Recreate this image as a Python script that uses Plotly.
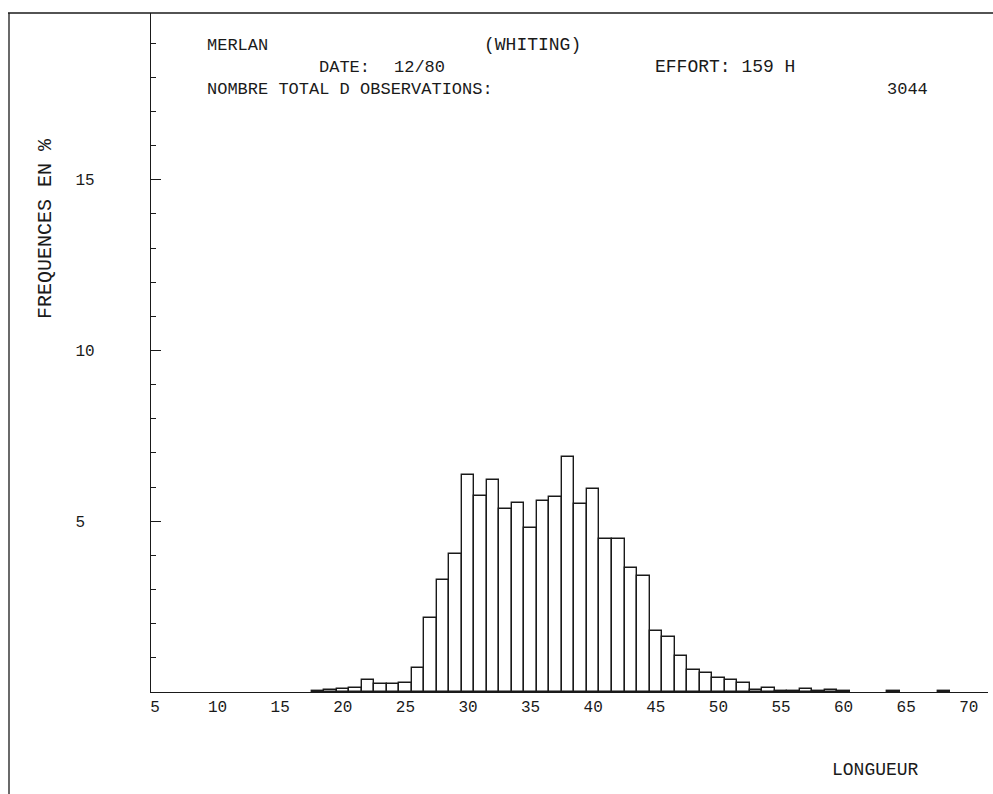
import plotly.graph_objects as go

# Length classes (cm) and relative frequencies (%) of whiting catches
longueur = [18, 19, 20, 21, 22, 23, 24, 25, 26, 27, 28, 29, 30, 31, 32, 33, 34,
            35, 36, 37, 38, 39, 40, 41, 42, 43, 44, 45, 46, 47, 48, 49, 50, 51,
            52, 53, 54, 55, 56, 57, 58, 59, 60, 64, 68]
frequence = [0.02, 0.05, 0.08, 0.12, 0.36, 0.24, 0.22, 0.27, 0.70, 2.17, 3.29,
             4.04, 6.36, 5.73, 6.22, 5.36, 5.53, 4.80, 5.60, 5.71, 6.88, 5.51,
             5.95, 4.49, 4.49, 3.63, 3.39, 1.80, 1.60, 1.04, 0.65, 0.56, 0.41,
             0.36, 0.26, 0.05, 0.12, 0.02, 0.03, 0.09, 0.02, 0.05, 0.02, 0.02,
             0.02]

x_ticks = list(range(5, 71, 5))
y_ticks = [5, 10, 15]
y_ticktext = ["5\u00a0", "10", "15"]

W, H = 993, 794
L, R, T, B = 151, 5, 13, 102
PW, PH = W - L - R, H - T - B
X_PER_CM = 12.52
Y_PER_PCT = 34.15
x0 = 5 - 4 / X_PER_CM
x_range = [x0, x0 + PW / X_PER_CM]
y_range = [0, PH / Y_PER_PCT]

FONT = "Liberation Mono"
INK = "#1a1a1a"


def px(xp):
    return (xp - L) / PW


def py(yp):
    return (H - B - yp) / PH


fig = go.Figure()
fig.add_trace(go.Bar(
    x=longueur, y=frequence, width=1.0,
    marker=dict(color="white", line=dict(color=INK, width=1.4)),
    hoverinfo="x+y", showlegend=False,
))

texts = [
    ("MERLAN", 205, 45, 17),
    ("(WHITING)", 482, 45, 18),
    ("DATE:", 317, 67, 17),
    ("12/80", 392, 67, 17),
    ("EFFORT: 159 H", 653, 67, 18),
    ("NOMBRE TOTAL D OBSERVATIONS:", 205, 89, 17),
    ("3044", 885, 89, 17),
    ("LONGUEUR", 830, 770, 18),
]
annotations = [
    dict(text=t, x=px(xp), y=py(yp), xref="paper", yref="paper",
         xanchor="left", yanchor="middle", showarrow=False,
         font=dict(family=FONT, size=fs, color=INK))
    for t, xp, yp, fs in texts
]
annotations.append(dict(
    text="FREQUENCES EN %", x=px(45), y=py(228), xref="paper", yref="paper",
    xanchor="center", yanchor="middle", showarrow=False, textangle=-90,
    font=dict(family=FONT, size=20, color=INK)))

# outer frame: top rule and left rule
shapes = [
    dict(type="line", xref="paper", yref="paper",
         x0=px(8), y0=py(13), x1=px(993), y1=py(13),
         line=dict(color=INK, width=1.3)),
    dict(type="line", xref="paper", yref="paper",
         x0=px(9), y0=py(13), x1=px(9), y1=py(794),
         line=dict(color=INK, width=1.3)),
]

fig.update_layout(
    width=W, height=H,
    margin=dict(l=L, r=R, t=T, b=B, pad=0),
    paper_bgcolor="white", plot_bgcolor="white",
    bargap=0,
    annotations=annotations,
    shapes=shapes,
    font=dict(family=FONT, color=INK),
)
fig.update_xaxes(
    range=x_range, tickmode="array", tickvals=x_ticks,
    ticktext=[str(v) for v in x_ticks], ticks="",
    showline=True, linecolor=INK, linewidth=1.3,
    showgrid=False, zeroline=False,
    tickfont=dict(family=FONT, size=16, color=INK),
)
fig.update_yaxes(
    range=y_range, tickmode="array", tickvals=y_ticks,
    ticktext=y_ticktext, ticks="inside", ticklen=10,
    tickcolor=INK, tickwidth=1.3,
    minor=dict(dtick=1, tick0=0, ticks="inside", ticklen=5,
               tickcolor=INK, tickwidth=1.3, showgrid=False),
    ticklabelstandoff=52,
    showline=True, linecolor=INK, linewidth=1.3,
    showgrid=False, zeroline=False,
    tickfont=dict(family=FONT, size=16, color=INK),
)

fig.write_html("out.html")
